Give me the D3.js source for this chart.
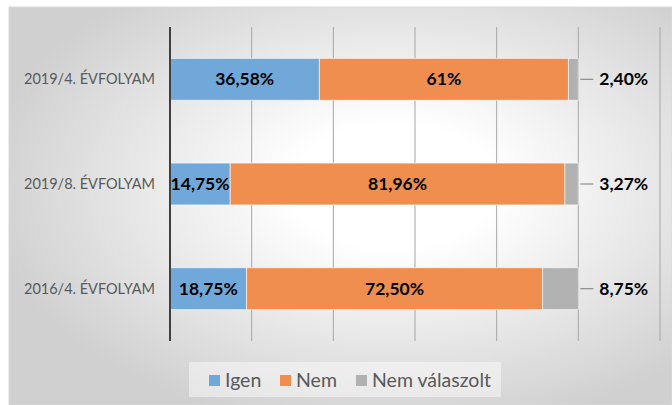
<!DOCTYPE html>
<html>
<head>
<meta charset="utf-8">
<script src="https://cdn.jsdelivr.net/npm/d3@7"></script>
<style>
  body { margin: 0; background: #fff; }
  svg text { font-family: Lato, "Open Sans", sans-serif; }
</style>
</head>
<body>
<div id="chart"></div>
<script>
var categories = ["2019/4. ÉVFOLYAM", "2019/8. ÉVFOLYAM", "2016/4. ÉVFOLYAM"];
var seriesNames = ["Igen", "Nem", "Nem válaszolt"];
var igen = [36.58, 14.75, 18.75];
var nem = [61, 81.96, 72.50];
var nemValaszolt = [2.40, 3.27, 8.75];
var igenLabels = ["36,58%", "14,75%", "18,75%"];
var nemLabels = ["61%", "81,96%", "72,50%"];
var nvLabels = ["2,40%", "3,27%", "8,75%"];
var colors = ["#70a8da", "#ef8e4f", "#b1b1b1"];

var width = 672,
    height = 405;

var svg = d3.select("#chart").append("svg")
    .attr("width", width)
    .attr("height", height);

// background gradient like the office chart
var defs = svg.append("defs");
var grad = defs.append("radialGradient")
    .attr("id", "bg")
    .attr("cx", "0.58").attr("cy", "0.45").attr("r", "0.62");
grad.append("stop").attr("offset", "0.25").attr("stop-color", "#ffffff");
grad.append("stop").attr("offset", "1").attr("stop-color", "#d0d0d0");

svg.append("rect")
    .attr("x", 9).attr("y", 7)
    .attr("width", width - 9).attr("height", height - 7)
    .attr("fill", "url(#bg)")
    .attr("stroke", "#d9d9d9");

var x = d3.scaleLinear()
    .domain([0, 120])
    .range([170, 660]);

var y = d3.scaleBand()
    .domain(categories)
    .range([27, 341])
    .paddingInner(0.6)
    .paddingOuter(0.3);

// gridlines
svg.append("g").selectAll("line")
    .data(x.ticks(6).filter(function(d) { return d > 0; }))
    .enter().append("line")
    .attr("x1", function(d) { return x(d); })
    .attr("x2", function(d) { return x(d); })
    .attr("y1", 27).attr("y2", 341)
    .attr("stroke", "#a6a6a6")
    .attr("stroke-width", 1);

var rows = categories.map(function(c, i) {
    return { cat: c, values: [igen[i], nem[i], nemValaszolt[i]],
             labels: [igenLabels[i], nemLabels[i], nvLabels[i]] };
});

var stack = d3.stack().keys([0, 1, 2]).value(function(d, k) { return d.values[k]; });
var layers = stack(rows);

var g = svg.append("g");
layers.forEach(function(layer, k) {
    g.selectAll(".s" + k)
        .data(layer)
        .enter().append("rect")
        .attr("x", function(d) { return x(d[0]); })
        .attr("y", function(d) { return y(d.data.cat); })
        .attr("width", function(d) { return x(d[1]) - x(d[0]); })
        .attr("height", y.bandwidth())
        .attr("fill", colors[k])
        .attr("stroke", "#ffffff")
        .attr("stroke-opacity", 0.6)
        .attr("stroke-width", 1);
});

// inner labels (Igen, Nem)
layers.slice(0, 2).forEach(function(layer, k) {
    g.selectAll(".l" + k)
        .data(layer)
        .enter().append("text")
        .attr("x", function(d) { return (x(d[0]) + x(d[1])) / 2; })
        .attr("y", function(d) { return y(d.data.cat) + y.bandwidth() / 2; })
        .attr("dy", "0.35em")
        .attr("text-anchor", "middle")
        .attr("font-size", "17.5px")
        .attr("font-weight", "bold")
        .attr("fill", "#000")
        .text(function(d) { return d.data.labels[k]; });
});

// outer labels with leader lines (Nem válaszolt)
var last = layers[2];
g.selectAll(".leader")
    .data(last)
    .enter().append("line")
    .attr("x1", function(d) { return x(d[1]) + 2; })
    .attr("x2", function(d) { return x(d[1]) + 15; })
    .attr("y1", function(d) { return y(d.data.cat) + y.bandwidth() / 2; })
    .attr("y2", function(d) { return y(d.data.cat) + y.bandwidth() / 2; })
    .attr("stroke", "#8c8c8c")
    .attr("stroke-width", 1.2);

g.selectAll(".outlbl")
    .data(last)
    .enter().append("text")
    .attr("x", function(d) { return x(d[1]) + 21; })
    .attr("y", function(d) { return y(d.data.cat) + y.bandwidth() / 2; })
    .attr("dy", "0.35em")
    .attr("font-size", "17.5px")
    .attr("font-weight", "bold")
    .attr("fill", "#000")
    .text(function(d) { return d.data.labels[2]; });

// y axis line + category labels
svg.append("line")
    .attr("x1", x(0)).attr("x2", x(0))
    .attr("y1", 27).attr("y2", 341)
    .attr("stroke", "#404040")
    .attr("stroke-width", 2);

svg.append("g").selectAll("text")
    .data(categories)
    .enter().append("text")
    .attr("x", 155)
    .attr("y", function(d) { return y(d) + y.bandwidth() / 2; })
    .attr("dy", "0.35em")
    .attr("text-anchor", "end")
    .attr("font-size", "14.5px")
    .attr("fill", "#595959")
    .text(function(d) { return d; });

// legend
var legend = svg.append("g");
legend.append("rect")
    .attr("x", 189).attr("y", 362)
    .attr("width", 312).attr("height", 35)
    .attr("fill", "#ffffff")
    .attr("fill-opacity", 0.45);

var legendX = [209, 280, 356];
seriesNames.forEach(function(name, i) {
    legend.append("rect")
        .attr("x", legendX[i]).attr("y", 375)
        .attr("width", 11).attr("height", 11)
        .attr("fill", colors[i]);
    legend.append("text")
        .attr("x", legendX[i] + 16).attr("y", 380.5)
        .attr("dy", "0.35em")
        .attr("font-size", "19.5px")
        .attr("fill", "#595959")
        .text(name);
});
</script>
</body>
</html>
